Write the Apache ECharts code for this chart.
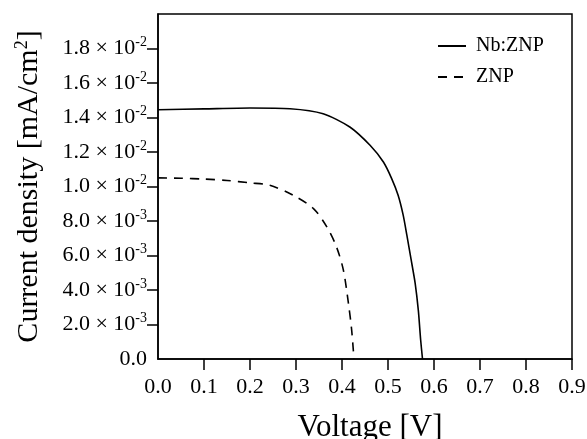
<!DOCTYPE html>
<html>
<head>
<meta charset="utf-8">
<script src="https://cdn.jsdelivr.net/npm/echarts@6/dist/echarts.min.js"></script>
<style>
  html, body { margin: 0; padding: 0; background: #fff; }
  #main { width: 587px; height: 439px; }
</style>
</head>
<body>
<div id="main"></div>
<script>
// Nb:ZNP curve (voltage V, current density mA/cm2)
var nbVoltage = [0, 0.1, 0.2, 0.287, 0.359, 0.417, 0.461, 0.49, 0.508, 0.522, 0.533, 0.541, 0.55, 0.559, 0.566, 0.571, 0.575];
var nbCurrent = [0.01445, 0.0145, 0.01455, 0.01451, 0.01422, 0.01345, 0.01239, 0.01142, 0.01046, 0.00949, 0.00834, 0.00718, 0.0058, 0.0044, 0.0028, 0.0011, 0];
// ZNP curve
var znpVoltage = [0, 0.05, 0.1, 0.15, 0.2, 0.243, 0.294, 0.338, 0.367, 0.388, 0.403, 0.414, 0.421, 0.426];
var znpCurrent = [0.0105, 0.01048, 0.01043, 0.01035, 0.01021, 0.01007, 0.00949, 0.00872, 0.00766, 0.0065, 0.00515, 0.00322, 0.00168, 0];

var seriesNames = ['Nb:ZNP', 'ZNP'];
var yTicks = [0, 0.002, 0.004, 0.006, 0.008, 0.01, 0.012, 0.014, 0.016, 0.018];
var xTicks = [0.1, 0.2, 0.3, 0.4, 0.5, 0.6, 0.7, 0.8, 0.9];

function pairs(xs, ys) {
  return xs.map(function (x, i) { return [x, ys[i]]; });
}

// 1.8 × 10^-2 style labels
function sciLabel(v) {
  if (v === 0) return '{b|0.0}';
  var exp = Math.floor(Math.log10(v) + 1e-9);
  var mant = v / Math.pow(10, exp);
  return '{b|' + mant.toFixed(1) + ' × 10}{sup|' + exp + '}';
}

var font = '"Liberation Serif", "Times New Roman", serif';

var option = {
  animation: false,
  textStyle: { fontFamily: font, color: '#000' },
  grid: {
    left: 158, right: 15, top: 14, bottom: 80,
    outerBoundsMode: 'none',
    containLabel: false,
    show: true,
    borderColor: '#000',
    borderWidth: 1.5
  },
  legend: {
    data: seriesNames,
    orient: 'vertical',
    left: 432,
    top: 31,
    itemWidth: 28,
    itemHeight: 12,
    itemGap: 11,
    itemStyle: { opacity: 0 },
    textStyle: { fontFamily: font, fontSize: 20, color: '#000', padding: [0, 0, 0, 5] }
  },
  xAxis: {
    type: 'value',
    min: 0,
    max: 0.9,
    interval: 0.1,
    name: 'Voltage [V]',
    nameLocation: 'middle',
    nameGap: 53,
    nameTextStyle: { fontFamily: font, fontSize: 31, color: '#000', padding: [0, 0, 0, 10] },
    splitLine: { show: false },
    axisLine: { lineStyle: { color: '#000', width: 1.5 } },
    axisTick: { inside: false, length: 11, lineStyle: { color: '#000', width: 1.5 }, customValues: xTicks },
    axisLabel: {
      margin: 17,
      fontFamily: font,
      fontSize: 22,
      color: '#000',
      formatter: function (v) { return v.toFixed(1); }
    }
  },
  yAxis: {
    type: 'value',
    min: 0,
    max: 0.02,
    interval: 0.002,
    name: '{t|Current density [mA/cm}{s|2}{t|]}',
    nameLocation: 'middle',
    nameGap: 113,
    nameTextStyle: {
      rich: {
        t: { fontFamily: font, fontSize: 30, color: '#000' },
        s: { fontFamily: font, fontSize: 18, color: '#000', padding: [0, 0, 14, 0] }
      }
    },
    splitLine: { show: false },
    axisLine: { lineStyle: { color: '#000', width: 1.5 } },
    axisTick: { inside: false, length: 11, lineStyle: { color: '#000', width: 1.5 }, customValues: yTicks.slice(1) },
    axisLabel: {
      margin: 11,
      customValues: yTicks,
      formatter: sciLabel,
      rich: {
        b: { fontFamily: font, fontSize: 22, color: '#000' },
        sup: { fontFamily: font, fontSize: 14, color: '#000', padding: [0, 0, 12, 0] }
      }
    }
  },
  series: [
    {
      name: seriesNames[0],
      type: 'line',
      smooth: 0.25,
      symbol: 'none',
      data: pairs(nbVoltage, nbCurrent),
      lineStyle: { color: '#000', width: 1.6, type: 'solid' },
      itemStyle: { color: '#000' }
    },
    {
      name: seriesNames[1],
      type: 'line',
      smooth: 0.3,
      symbol: 'none',
      data: pairs(znpVoltage, znpCurrent),
      lineStyle: { color: '#000', width: 1.6, type: [9, 7] },
      itemStyle: { color: '#000' }
    }
  ]
};

var chartDom = document.getElementById('main');
var chart = echarts.init(chartDom);
option && chart.setOption(option);
</script>
</body>
</html>
